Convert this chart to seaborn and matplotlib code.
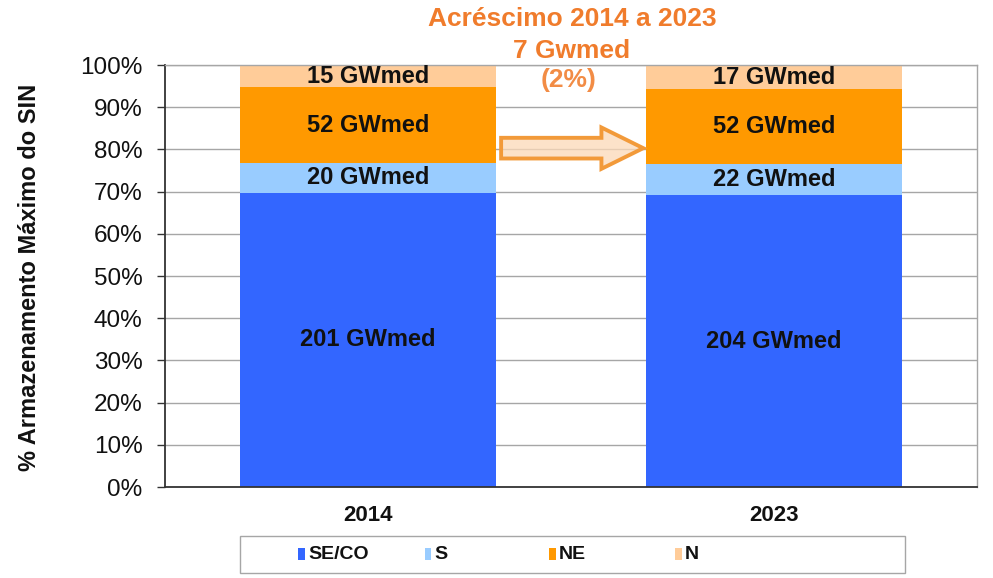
import matplotlib
matplotlib.use("Agg")
import matplotlib.pyplot as plt
from matplotlib.patches import FancyArrow, Rectangle
import seaborn as sns
import pandas as pd

years = ["2014", "2023"]
regions = ["SE/CO", "S", "NE", "N"]
gwmed_2014 = [201, 20, 52, 15]
gwmed_2023 = [204, 22, 52, 17]
colors = ["#3366FF", "#99CCFF", "#FF9900", "#FFCC99"]
title_lines = ["Acréscimo 2014 a 2023", "7 Gwmed", "(2%)"]
orange = "#F07C2C"

df = pd.DataFrame({"SE/CO": [gwmed_2014[0], gwmed_2023[0]],
                   "S": [gwmed_2014[1], gwmed_2023[1]],
                   "NE": [gwmed_2014[2], gwmed_2023[2]],
                   "N": [gwmed_2014[3], gwmed_2023[3]]}, index=years)
pct = df.div(df.sum(axis=1), axis=0) * 100
cum = pct.cumsum(axis=1)

sns.set_theme(style="white")
plt.rcParams["font.family"] = ["Liberation Sans", "DejaVu Sans"]

fig = plt.figure(figsize=(9.93, 5.78), dpi=100)
ax = fig.add_axes([0.166, 0.1574, 0.818, 0.7301])

# stacked bars: draw cumulative heights from top layer down
for reg, col in reversed(list(zip(regions, colors))):
    sns.barplot(x=years, y=cum[reg].values, color=col, width=0.63,
                saturation=1, ax=ax, zorder=2, edgecolor="none")

for i, yr in enumerate(years):
    bottom = 0
    for reg in regions:
        h = pct.loc[yr, reg]
        ax.text(i, bottom + h / 2, f"{df.loc[yr, reg]} GWmed", ha="center",
                va="center", fontsize=17, fontweight="bold", color="#111111", zorder=5)
        bottom += h

ax.set_ylim(0, 100)
ax.set_xlim(-0.5, 1.5)
ax.set_yticks(range(0, 101, 10))
ax.set_yticklabels([f"{v}%" for v in range(0, 101, 10)], fontsize=17.5, color="#111111")
ax.set_xticks([0, 1])
ax.set_xticklabels(years, fontsize=16, fontweight="bold", color="#111111")
ax.set_xticks([-0.5, 0.5, 1.5], minor=True)
ax.tick_params(axis="x", which="major", length=0, pad=13)
ax.tick_params(axis="x", which="minor", length=6, width=1, color="#333333", direction="out")
ax.tick_params(axis="y", length=6, width=1, color="#333333", direction="out", pad=10, left=True)
ax.yaxis.grid(True, color="#A6A6A6", linewidth=1, zorder=0)
ax.set_axisbelow(True)
ax.set_ylabel("% Armazenamento Máximo do SIN", fontsize=17, fontweight="bold",
              color="#111111")
ax.yaxis.set_label_coords(-0.153, 0.497)
ax.set_xlabel("")

for s in ["left", "bottom"]:
    ax.spines[s].set_color("#333333")
    ax.spines[s].set_linewidth(1.3)
for s in ["top", "right"]:
    ax.spines[s].set_color("#A6A6A6")
    ax.spines[s].set_linewidth(1)

arrow = FancyArrow(0.328, 80.3, 0.35, 0, width=4.9, head_width=9.8, head_length=0.103,
                   length_includes_head=True, facecolor=(0.99, 0.85, 0.72, 0.75),
                   edgecolor="#F29A3A", linewidth=2.8, zorder=4)
ax.add_patch(arrow)

fig.text(0.576, 0.967, title_lines[0], ha="center", va="center", fontsize=19,
         fontweight="bold", color=orange)
fig.text(0.576, 0.912, title_lines[1], ha="center", va="center", fontsize=19,
         fontweight="bold", color=orange)
fig.text(0.573, 0.862, title_lines[2], ha="center", va="center", fontsize=19,
         fontweight="bold", color="#F28C45")

# legend box with evenly spaced entries
fig.patches.append(Rectangle((0.2417, 0.0087), 0.6697, 0.064, transform=fig.transFigure,
                             facecolor="white", edgecolor="#A6A6A6", linewidth=1))
leg_x = [0.304, 0.431, 0.556, 0.683]
for xpos, reg, col in zip(leg_x, regions, colors):
    fig.patches.append(Rectangle((xpos - 0.0035, 0.0315), 0.007, 0.02,
                                 transform=fig.transFigure, facecolor=col, edgecolor="none"))
    fig.text(xpos + 0.0065, 0.041, reg, ha="left", va="center", fontsize=14,
             fontweight="bold", color="#111111")

fig.savefig("out.png", dpi=100, facecolor="white")
